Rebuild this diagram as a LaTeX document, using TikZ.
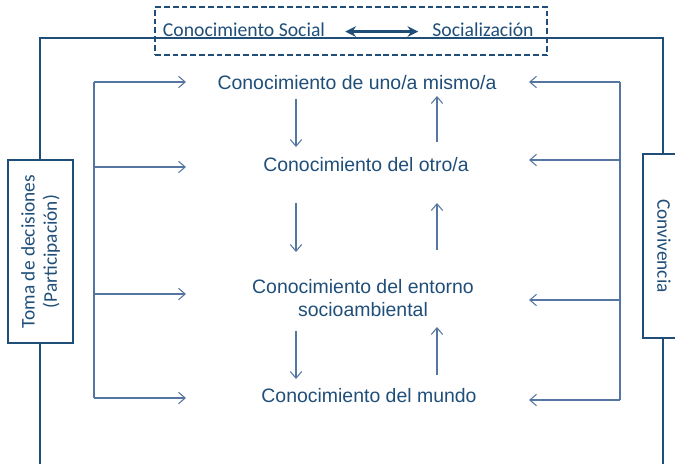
\documentclass[tikz,border=0pt]{standalone}
\usepackage{fontspec}
\setmainfont{Liberation Sans}
\newfontfamily\calib{Carlito}
\usepackage{xcolor}
\usetikzlibrary{arrows.meta}

\definecolor{frameblue}{HTML}{1F4E79}
\definecolor{textblue}{HTML}{1F4E79}
\definecolor{lineblue}{HTML}{5576A0}

\begin{document}
\begin{tikzpicture}[x=0.03cm, y=-0.03cm,
  frame/.style={draw=frameblue, line width=2pt},
  sidebox/.style={draw=frameblue, line width=1.8pt, fill=white, inner sep=0pt,
    align=center, text=textblue, font=\calib\fontsize{16.5}{19}\selectfont},
  topnote/.style={text=textblue, inner sep=0pt, font=\calib\fontsize{16.8}{19}\selectfont},
  know/.style={text=textblue, align=center, inner sep=0pt,
    font=\fontsize{16.6}{19.6}\selectfont},
  arrow/.style={-{Straight Barb[length=2mm,width=3.4mm]}, draw=lineblue, line width=0.9pt},
  bracket/.style={draw=lineblue, line width=0.9pt},
]
\useasboundingbox (0,0) rectangle (675,463);
\clip (0,0) rectangle (675,463);

% outer frame
\coordinate (bl) at (40,470);
\coordinate (tl) at (40,38);
\coordinate (tr) at (663,38);
\coordinate (br) at (663,470);
\draw[frame] (bl) -- (tl) -- (tr) -- (br);

% top box
\node[draw=frameblue, dash pattern=on 5pt off 2.5pt, line width=1.7pt,
  minimum width=11.76cm, minimum height=1.44cm] (top) at (351,31) {};
\node[topnote, anchor=base] (cs) at (244,36) {Conocimiento Social};
\node[topnote, anchor=base] (soc) at (483,36) {Socialización};
\draw[{Stealth[length=3.2mm,width=3.2mm]}-{Stealth[length=3.2mm,width=3.2mm]},
  draw=frameblue, line width=2.8pt, shorten <=0.6cm, shorten >=0.42cm]
  ([yshift=-2pt]cs.east) -- ([yshift=-2pt]cs.east -| soc.west);

% side boxes
\node[sidebox, rotate=90, minimum width=5.49cm, minimum height=1.95cm] (toma)
  at (40.5,251.5) {Toma de decisiones\\(Participación)};
\node[sidebox, rotate=-90, minimum width=5.52cm, minimum height=1.26cm] (conv)
  at (664,246) {Convivencia};

% knowledge levels
\node[know, anchor=base] (c1) at (357,89) {Conocimiento de uno/a mismo/a};
\node[know, anchor=base] (c2) at (366,171) {Conocimiento del otro/a};
\node[know] (c3) at (363,298) {Conocimiento del entorno\\socioambiental};
\node[know, anchor=base] (c4) at (369,402) {Conocimiento del mundo};

% columns and rows
\coordinate (lx) at (94,0);
\coordinate (lt) at (186,0);
\coordinate (rx) at (620,0);
\coordinate (rt) at (529,0);
\coordinate (dn) at (296,0);
\coordinate (up) at (437,0);

\coordinate (l1) at (0,82);
\coordinate (l2) at (0,167);
\coordinate (l3) at (0,294);
\coordinate (l4) at (0,398);
\coordinate (r1) at (0,82);
\coordinate (r2) at (0,160);
\coordinate (r3) at (0,300);
\coordinate (r4) at (0,400);

% left bracket
\draw[bracket] (lx |- l1) -- (lx |- l4);
\draw[arrow] (lx |- l1) -- (lt |- l1);
\draw[arrow] (lx |- l2) -- (lt |- l2);
\draw[arrow] (lx |- l3) -- (lt |- l3);
\draw[arrow] (lx |- l4) -- (lt |- l4);

% right bracket
\draw[bracket] (rx |- r1) -- (rx |- r4);
\draw[arrow] (rx |- r1) -- (rt |- r1);
\draw[arrow] (rx |- r2) -- (rt |- r2);
\draw[arrow] (rx |- r3) -- (rt |- r3);
\draw[arrow] (rx |- r4) -- (rt |- r4);

% down / up arrows
\coordinate (a1) at (0,99);
\coordinate (a2) at (0,147);
\coordinate (b1) at (0,142);
\coordinate (b2) at (0,96);
\coordinate (a3) at (0,203);
\coordinate (a4) at (0,252);
\coordinate (b3) at (0,250);
\coordinate (b4) at (0,203);
\coordinate (a5) at (0,331);
\coordinate (a6) at (0,379);
\coordinate (b5) at (0,375);
\coordinate (b6) at (0,327);

\draw[arrow] (dn |- a1) -- (dn |- a2);
\draw[arrow] (up |- b1) -- (up |- b2);
\draw[arrow] (dn |- a3) -- (dn |- a4);
\draw[arrow] (up |- b3) -- (up |- b4);
\draw[arrow] (dn |- a5) -- (dn |- a6);
\draw[arrow] (up |- b5) -- (up |- b6);

\end{tikzpicture}
\end{document}
